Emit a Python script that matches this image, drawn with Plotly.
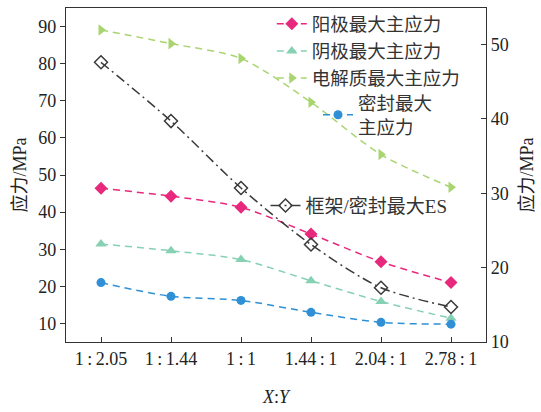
import plotly.graph_objects as go

# Aspect ratio categories (X:Y)
ratios = ["1\u2009:\u20092.05", "1\u2009:\u20091.44", "1\u2009:\u20091",
          "1.44\u2009:\u20091", "2.04\u2009:\u20091", "2.78\u2009:\u20091"]

# Maximum principal stress, MPa (left axis)
anode = [46.4, 44.3, 41.3, 34.1, 26.6, 21.0]
cathode = [31.4, 29.6, 27.2, 21.5, 15.9, 11.4]
electrolyte = [89.1, 85.4, 81.4, 69.6, 55.5, 46.7]
seal = [21.0, 17.3, 16.2, 13.0, 10.3, 9.8]

# Frame/seal maximum equivalent stress, MPa (right axis)
frame_es = [47.6, 39.7, 30.7, 23.1, 17.3, 14.7]

FONT = "'Liberation Serif', 'Times New Roman', 'Noto Sans CJK SC', serif"
x = list(range(len(ratios)))

fig = go.Figure()

def add_series(y, name, color, symbol, legend, yaxis="y", dash="7px,5px", size=9, mline=None):
    fig.add_trace(go.Scatter(
        x=x, y=y, name=name, mode="lines+markers", yaxis=yaxis, legend=legend,
        line=dict(color=color, width=1.5, dash=dash, shape="spline", smoothing=0.8),
        marker=dict(symbol=symbol, size=size, color=color,
                    line=dict(color=color, width=mline or 0)),
    ))

add_series(anode, "阳极最大主应力", "#e8287c", "diamond", "legend", size=10)
add_series(cathode, "阴极最大主应力", "#86d1b4", "triangle-up", "legend", size=10)
add_series(electrolyte, "电解质最大主应力", "#a9d570", "triangle-right", "legend", size=10)
add_series(seal, "密封最大<br>主应力", "#2f90d6", "circle", "legend2", size=9)
add_series(frame_es, "框架/密封最大ES", "#3a3a3a", "diamond-open", "legend3",
           yaxis="y2", dash="10px,4px,2px,4px", size=10, mline=1.5)

axis_font = dict(family=FONT, size=18, color="#222")

def legend_style(size):
    return dict(font=dict(family=FONT, size=size, color="#333"),
                bgcolor="rgba(0,0,0,0)", borderwidth=0,
                xanchor="left", yanchor="top", itemwidth=30,
                tracegroupgap=0)

fig.update_layout(
    width=541, height=412,
    margin=dict(l=66, r=55, t=5, b=70),
    paper_bgcolor="white", plot_bgcolor="white",
    font=dict(family=FONT, size=17, color="#222"),
    showlegend=True,
    xaxis=dict(
        range=[-0.5, 5.5], tickmode="array", tickvals=x, ticktext=ratios,
        ticks="inside", ticklen=5, tickcolor="#333", tickfont=axis_font,
        showline=True, linecolor="#333", linewidth=1.2, mirror=True,
        showgrid=False, zeroline=False,
        title=dict(text="<i>X</i>:<i>Y</i>", font=axis_font, standoff=22),
    ),
    yaxis=dict(
        range=[5, 95], tickvals=[10, 20, 30, 40, 50, 60, 70, 80, 90],
        ticks="outside", ticklen=5, tickcolor="#333", tickfont=axis_font,
        showline=True, linecolor="#333", linewidth=1.2,
        showgrid=False, zeroline=False,
        title=dict(text="应力/MPa", font=axis_font, standoff=6),
    ),
    yaxis2=dict(
        range=[10, 54.9], tickvals=[10, 20, 30, 40, 50], overlaying="y", side="right",
        ticks="inside", ticklen=5, tickcolor="#333", tickfont=axis_font,
        showline=True, linecolor="#333", linewidth=1.2,
        showgrid=False, zeroline=False,
        title=dict(text="应力/MPa", font=axis_font, standoff=12),
    ),
    legend=dict(x=0.49, y=1.008, **legend_style(18.5)),
    legend2=dict(x=0.60, y=0.772, **legend_style(18.5)),
    legend3=dict(x=0.475, y=0.465, **legend_style(19)),
)

fig.write_html("out.html")
